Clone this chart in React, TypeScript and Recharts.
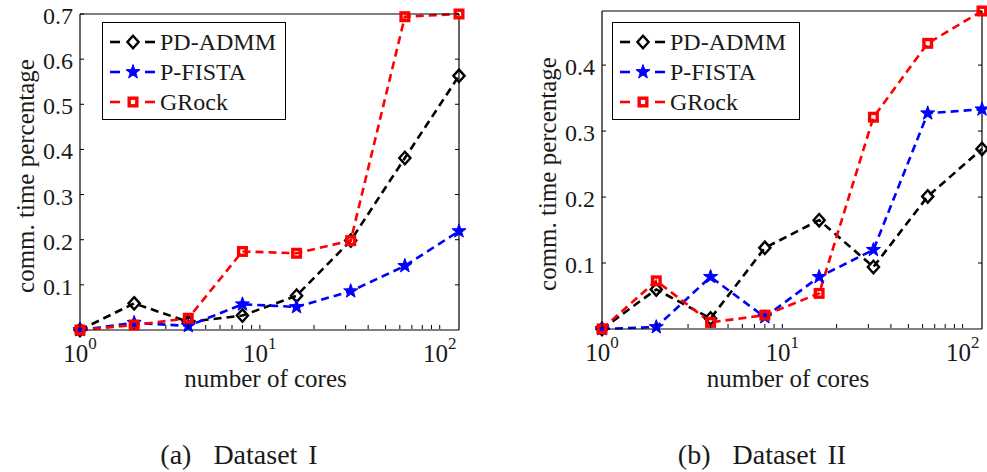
import React from "react";
import { LineChart, Line, XAxis, YAxis, Legend } from "recharts";

const cores = [1, 2, 4, 8, 16, 32, 64, 128];

// Dataset I
const admmI = [0.0, 0.059, 0.018, 0.032, 0.076, 0.198, 0.381, 0.563];
const fistaI = [0.0, 0.016, 0.009, 0.057, 0.051, 0.086, 0.142, 0.219];
const grockI = [0.0, 0.011, 0.026, 0.174, 0.17, 0.198, 0.694, 0.7];

// Dataset II
const admmII = [0.0, 0.06, 0.016, 0.123, 0.165, 0.094, 0.201, 0.273];
const fistaII = [0.0, 0.003, 0.079, 0.018, 0.079, 0.12, 0.327, 0.333];
const grockII = [0.0, 0.073, 0.01, 0.021, 0.054, 0.321, 0.433, 0.482];

// log axis: majors at decades, minors in between
const xTicks = [1, 2, 3, 4, 5, 6, 7, 8, 9, 10, 20, 30, 40, 50, 60, 70, 80, 90, 100];
const yTicksI = [0.1, 0.2, 0.3, 0.4, 0.5, 0.6, 0.7];
const yTicksII = [0.1, 0.2, 0.3, 0.4];

const seriesNames = ["PD-ADMM", "P-FISTA", "GRock"];
const seriesKeys = ["admm", "fista", "grock"];
const seriesColors = ["#000000", "#0000ff", "#ff0000"];
const seriesMarkers = ["diamond", "star", "square"];

const FONT = "'Liberation Serif', 'Times New Roman', serif";
const TEXT = "#1a1a1a";
const TICK = 4;
const LINE_W = 2.6;

const buildRows = (a: number[], f: number[], g: number[]) =>
  cores.map((c, i) => ({ cores: c, admm: a[i], fista: f[i], grock: g[i] }));

function Marker({ kind, color, cx, cy }: { kind: string; color: string; cx: number; cy: number }) {
  if (kind === "diamond") {
    const pts = `${cx},${cy - 6.2} ${cx + 5.6},${cy} ${cx},${cy + 6.2} ${cx - 5.6},${cy}`;
    return <polygon points={pts} fill="none" stroke={color} strokeWidth={2.4} />;
  }
  if (kind === "star") {
    const pts: string[] = [];
    for (let k = 0; k < 10; k++) {
      const r = k % 2 === 0 ? 7.4 : 3;
      const a = -Math.PI / 2 + (k * Math.PI) / 5;
      pts.push(`${cx + r * Math.cos(a)},${cy + r * Math.sin(a)}`);
    }
    return <polygon points={pts.join(" ")} fill={color} stroke={color} strokeWidth={1} />;
  }
  return (
    <rect x={cx - 3.8} y={cy - 3.8} width={7.6} height={7.6} fill="none" stroke={color} strokeWidth={3.4} />
  );
}

function BottomTick(props: any) {
  const { x, y, payload } = props;
  const e = Math.round(Math.log10(payload.value));
  const major = Math.abs(Math.log10(payload.value) - e) < 1e-9;
  const y0 = y - 1;
  return (
    <g>
      <line x1={x} x2={x} y1={y0} y2={y0 - TICK} stroke="#000" />
      {major && (
        <text x={x} y={y0 + 33} textAnchor="middle" fontFamily={FONT} fontSize={25} fill={TEXT}>
          10
          <tspan dy={-13} fontSize={17}>
            {e}
          </tspan>
        </text>
      )}
    </g>
  );
}

function TopTick(props: any) {
  const { x, y } = props;
  return <line x1={x} x2={x} y1={y} y2={y + TICK} stroke="#000" />;
}

function LeftTick(props: any) {
  const { x, y, payload } = props;
  return (
    <g>
      <line x1={x} x2={x + TICK} y1={y} y2={y} stroke="#000" />
      <text x={x - 7} y={y + 10} textAnchor="end" fontFamily={FONT} fontSize={24} fill={TEXT}>
        {String(payload.value)}
      </text>
    </g>
  );
}

function RightTick(props: any) {
  const { x, y } = props;
  return <line x1={x} x2={x - TICK} y1={y} y2={y} stroke="#000" />;
}

// axis title at a fixed spot; recharts injects its own x/y, so use tx/ty
function Title({ tx, ty, text, vertical }: { tx: number; ty: number; text: string; vertical?: boolean }) {
  return (
    <text
      x={tx}
      y={ty}
      textAnchor="middle"
      dominantBaseline={vertical ? "central" : "auto"}
      transform={vertical ? `rotate(-90 ${tx} ${ty})` : undefined}
      fontFamily={FONT}
      fontSize={25}
      fill={TEXT}
    >
      {text}
    </text>
  );
}

function LegendBox({ width, height }: { width: number; height: number }) {
  return (
    <div
      style={{
        width,
        height,
        boxSizing: "border-box",
        border: "1px solid #000",
        background: "#fff",
        paddingTop: 4,
        fontFamily: FONT,
        fontSize: 24,
        color: TEXT,
      }}
    >
      {seriesNames.map((name, i) => (
        <div key={name} style={{ display: "flex", alignItems: "center", height: 30 }}>
          <svg width={57} height={30} style={{ display: "block" }}>
            <line x1={7} x2={17} y1={15} y2={15} stroke={seriesColors[i]} strokeWidth={LINE_W} />
            <Marker kind={seriesMarkers[i]} color={seriesColors[i]} cx={30} cy={15} />
            <line x1={42} x2={52} y1={15} y2={15} stroke={seriesColors[i]} strokeWidth={LINE_W} />
          </svg>
          <span style={{ lineHeight: "30px" }}>{name}</span>
        </div>
      ))}
    </div>
  );
}

interface PanelProps {
  left: number;
  width: number;
  plotLeft: number;
  plotRight: number;
  plotTop: number;
  plotBottom: number;
  yMax: number;
  yTicks: number[];
  rows: ReturnType<typeof buildRows>;
  legendLeft: number;
  legendWidth: number;
  caption: string;
  captionX: number;
}

function Panel(p: PanelProps) {
  const H = 420;
  const axisLine = { stroke: "#000", strokeWidth: 1.2 };
  const plotCx = (p.plotLeft + p.plotRight) / 2 - p.left;
  const plotCy = (p.plotTop + p.plotBottom) / 2;
  return (
    <>
      <div style={{ position: "absolute", left: p.left, top: 0 }}>
        <LineChart
          width={p.width}
          height={H}
          data={p.rows}
          margin={{
            top: p.plotTop - 1,
            left: p.plotLeft - p.left - 1,
            right: p.left + p.width - p.plotRight - 1,
            bottom: H - p.plotBottom - 1,
          }}
        >
          <XAxis
            xAxisId="b"
            dataKey="cores"
            type="number"
            scale="log"
            domain={[1, 128]}
            ticks={xTicks}
            interval={0}
            height={1}
            tickSize={0}
            tickMargin={0}
            tickLine={false}
            axisLine={axisLine}
            tick={(t: any) => <BottomTick {...t} />}
            label={<Title tx={plotCx - 4} ty={387} text="number of cores" />}
          />
          <XAxis
            xAxisId="t"
            orientation="top"
            type="number"
            scale="log"
            domain={[1, 128]}
            allowDataOverflow
            ticks={xTicks}
            interval={0}
            height={1}
            tickSize={0}
            tickMargin={0}
            tickLine={false}
            axisLine={axisLine}
            tick={(t: any) => <TopTick {...t} />}
          />
          <YAxis
            yAxisId="l"
            type="number"
            domain={[0, p.yMax]}
            ticks={p.yTicks}
            interval={0}
            width={1}
            tickSize={0}
            tickMargin={0}
            tickLine={false}
            axisLine={axisLine}
            tick={(t: any) => <LeftTick {...t} />}
            label={
              <Title
                tx={p.plotLeft - p.left - 55}
                ty={plotCy + 4}
                text="comm. time percentage"
                vertical
              />
            }
          />
          <YAxis
            yAxisId="r"
            orientation="right"
            type="number"
            domain={[0, p.yMax]}
            allowDataOverflow
            ticks={p.yTicks}
            interval={0}
            width={1}
            tickSize={0}
            tickMargin={0}
            tickLine={false}
            axisLine={axisLine}
            tick={(t: any) => <RightTick {...t} />}
          />
          <Legend
            layout="vertical"
            align="center"
            verticalAlign="middle"
            wrapperStyle={{ left: p.legendLeft - p.left, top: 22, width: p.legendWidth, height: 98 }}
            content={() => <LegendBox width={p.legendWidth} height={98} />}
          />
          {seriesKeys.map((key, i) => (
            <Line
              key={key}
              xAxisId="b"
              yAxisId="l"
              dataKey={key}
              name={seriesNames[i]}
              stroke={seriesColors[i]}
              strokeWidth={LINE_W}
              strokeDasharray="8 5"
              isAnimationActive={false}
              dot={(d: any) => (
                <Marker
                  key={`${key}-${d.index}`}
                  kind={seriesMarkers[i]}
                  color={seriesColors[i]}
                  cx={d.cx}
                  cy={d.cy}
                />
              )}
              activeDot={false}
            />
          ))}
        </LineChart>
      </div>
      <div
        style={{
          position: "absolute",
          left: p.captionX - 150,
          top: 441,
          width: 300,
          textAlign: "center",
          fontFamily: FONT,
          fontSize: 28,
          lineHeight: "28px",
          wordSpacing: 4,
          color: TEXT,
          whiteSpace: "pre",
        }}
      >
        {p.caption}
      </div>
    </>
  );
}

export default function App() {
  return (
    <div style={{ position: "absolute", left: 0, top: 0, width: 987, height: 472, background: "#fff" }}>
      <Panel
        left={0}
        width={490}
        plotLeft={80}
        plotRight={459}
        plotTop={14}
        plotBottom={330}
        yMax={0.7}
        yTicks={yTicksI}
        rows={buildRows(admmI, fistaI, grockI)}
        legendLeft={102}
        legendWidth={184}
        caption="(a)  Dataset I"
        captionX={239}
      />
      <Panel
        left={490}
        width={497}
        plotLeft={602}
        plotRight={982}
        plotTop={11}
        plotBottom={329}
        yMax={0.482}
        yTicks={yTicksII}
        rows={buildRows(admmII, fistaII, grockII)}
        legendLeft={612}
        legendWidth={188}
        caption="(b)  Dataset II"
        captionX={762}
      />
    </div>
  );
}
